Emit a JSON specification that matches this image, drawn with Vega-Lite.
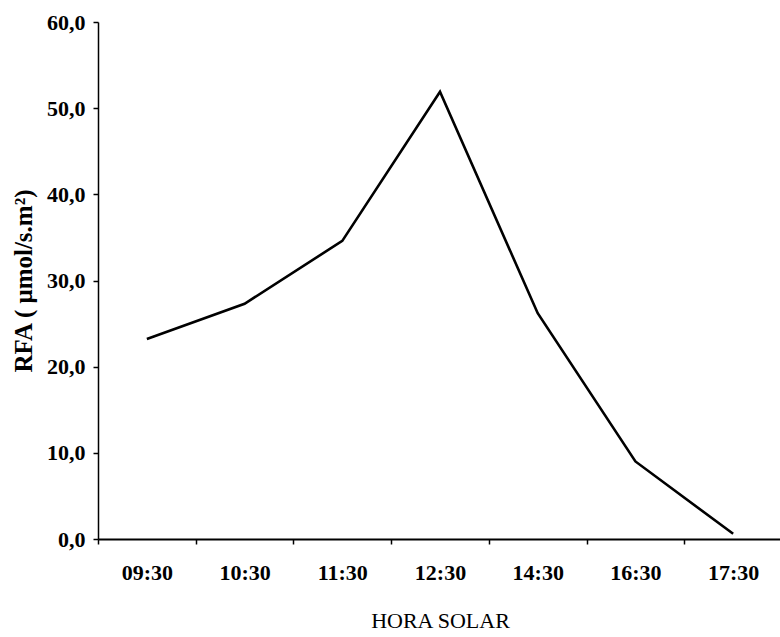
{
  "$schema": "https://vega.github.io/schema/vega-lite/v6.json",
  "width": 684,
  "height": 517,
  "autosize": {"type": "none"},
  "padding": {"left": 98, "top": 22, "right": 0, "bottom": 98},
  "background": "white",
  "data": {
    "values": [
      {"hora": "09:30", "rfa": 23.2},
      {"hora": "10:30", "rfa": 27.3},
      {"hora": "11:30", "rfa": 34.6},
      {"hora": "12:30", "rfa": 51.9},
      {"hora": "14:30", "rfa": 26.2},
      {"hora": "16:30", "rfa": 9.0},
      {"hora": "17:30", "rfa": 0.6}
    ]
  },
  "mark": {"type": "line", "color": "black", "strokeWidth": 2.6, "strokeJoin": "miter"},
  "encoding": {
    "x": {
      "field": "hora",
      "type": "ordinal",
      "sort": null,
      "scale": {"paddingInner": 0, "paddingOuter": 0},
      "axis": {
        "title": "HORA SOLAR",
        "titleFont": "Liberation Serif",
        "titleFontWeight": "normal",
        "titleFontSize": 22,
        "titleColor": "black",
        "titlePadding": 27,
        "labelFont": "Liberation Serif",
        "labelFontWeight": "bold",
        "labelFontSize": 22,
        "labelColor": "black",
        "labelAngle": 0,
        "labelPadding": 18,
        "tickBand": "extent",
        "tickSize": 5,
        "tickColor": "black",
        "tickWidth": 1.5,
        "domainColor": "black",
        "domainWidth": 2,
        "grid": false
      }
    },
    "y": {
      "field": "rfa",
      "type": "quantitative",
      "scale": {"domain": [0, 60], "nice": false},
      "axis": {
        "title": "RFA ( μmol/s.m²)",
        "titleFont": "Liberation Serif",
        "titleFontWeight": "bold",
        "titleFontSize": 25,
        "titleColor": "black",
        "titlePadding": 10,
        "values": [0, 10, 20, 30, 40, 50, 60],
        "labelExpr": "replace(format(datum.value, '.1f'), '.', ',')",
        "labelFont": "Liberation Serif",
        "labelFontWeight": "bold",
        "labelFontSize": 22,
        "labelColor": "black",
        "labelPadding": 8,
        "tickSize": 5,
        "tickColor": "black",
        "tickWidth": 1.5,
        "domainColor": "black",
        "domainWidth": 1.5,
        "grid": false
      }
    }
  },
  "config": {"view": {"stroke": null}}
}
